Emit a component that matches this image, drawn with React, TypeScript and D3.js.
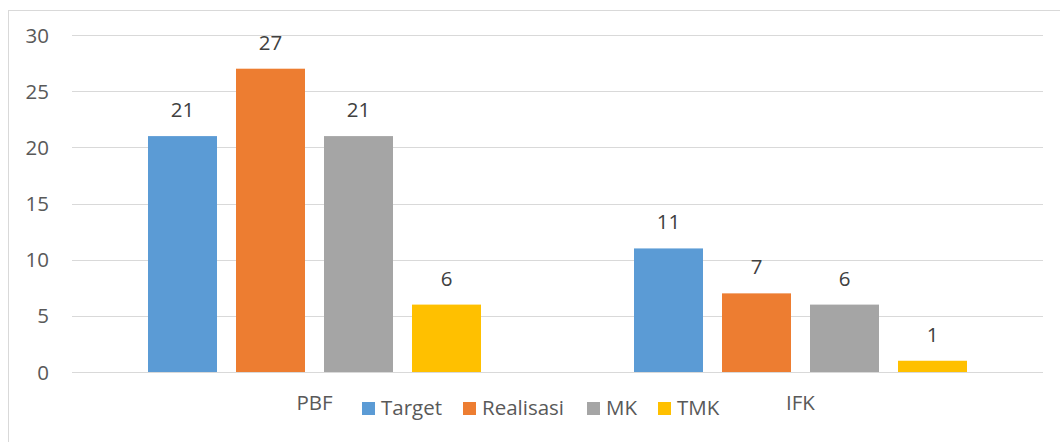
import React from "react";
import * as d3 from "d3";

const categories = ["PBF", "IFK"];
const seriesNames = ["Target", "Realisasi", "MK", "TMK"];
const seriesColors = ["#5b9bd5", "#ed7d31", "#a5a5a5", "#ffc000"];
const targetValues = [21, 11];
const realisasiValues = [27, 7];
const mkValues = [21, 6];
const tmkValues = [6, 1];
const yTicks = [0, 5, 10, 15, 20, 25, 30];

const seriesValues = [targetValues, realisasiValues, mkValues, tmkValues];

const W = 1060;
const H = 442;
const FONT = "'Open Sans', Lato, sans-serif";
const FS = 20.5;

export default function App() {
  const x0 = d3.scaleBand<string>().domain(categories).range([71.5, 1043.5]).paddingInner(0).paddingOuter(0);
  const y = d3.scaleLinear().domain([0, 30]).range([372, 35]);
  const groupW = 69 * 4 + 19 * 3;
  const x1 = d3
    .scaleBand<string>()
    .domain(seriesNames)
    .range([0, groupW])
    .paddingInner(19 / 88)
    .paddingOuter(0);

  const legendX = [362, 463, 587, 658];

  return (
    <svg width={W} height={H} style={{ position: "absolute", left: 0, top: 0, background: "#fff" }} fontFamily={FONT}>
      <rect x={8.5} y={10.5} width={1070} height={460} fill="#fff" stroke="#d9d9d9" strokeWidth={1} />
      {yTicks.map((t) => (
        <g key={t}>
          <line x1={72} x2={1043} y1={Math.round(y(t)) + 0.5} y2={Math.round(y(t)) + 0.5} stroke="#d9d9d9" strokeWidth={1} />
          <text x={49} y={y(t) + 7.5} textAnchor="end" fontSize={FS} fill="#595959">
            {t}
          </text>
        </g>
      ))}
      {categories.map((c, ci) => {
        const gx = (x0(c) as number) + x0.bandwidth() / 2 - groupW / 2;
        return (
          <g key={c}>
            {seriesNames.map((s, si) => {
              const v = seriesValues[si][ci];
              const bx = gx + (x1(s) as number);
              const bw = x1.bandwidth();
              return (
                <g key={s}>
                  <rect x={bx} y={y(v)} width={bw} height={y(0) - y(v)} fill={seriesColors[si]} />
                  <text x={bx + bw / 2} y={y(v) - 19} textAnchor="middle" fontSize={FS} fill="#404040">
                    {v}
                  </text>
                </g>
              );
            })}
            <text x={(x0(c) as number) + x0.bandwidth() / 2} y={410} textAnchor="middle" fontSize={FS} fill="#595959">
              {c}
            </text>
          </g>
        );
      })}
      {seriesNames.map((s, si) => (
        <g key={s}>
          <rect x={legendX[si]} y={402} width={13} height={13} fill={seriesColors[si]} />
          <text x={legendX[si] + 19} y={415} fontSize={FS} fill="#595959">
            {s}
          </text>
        </g>
      ))}
    </svg>
  );
}
